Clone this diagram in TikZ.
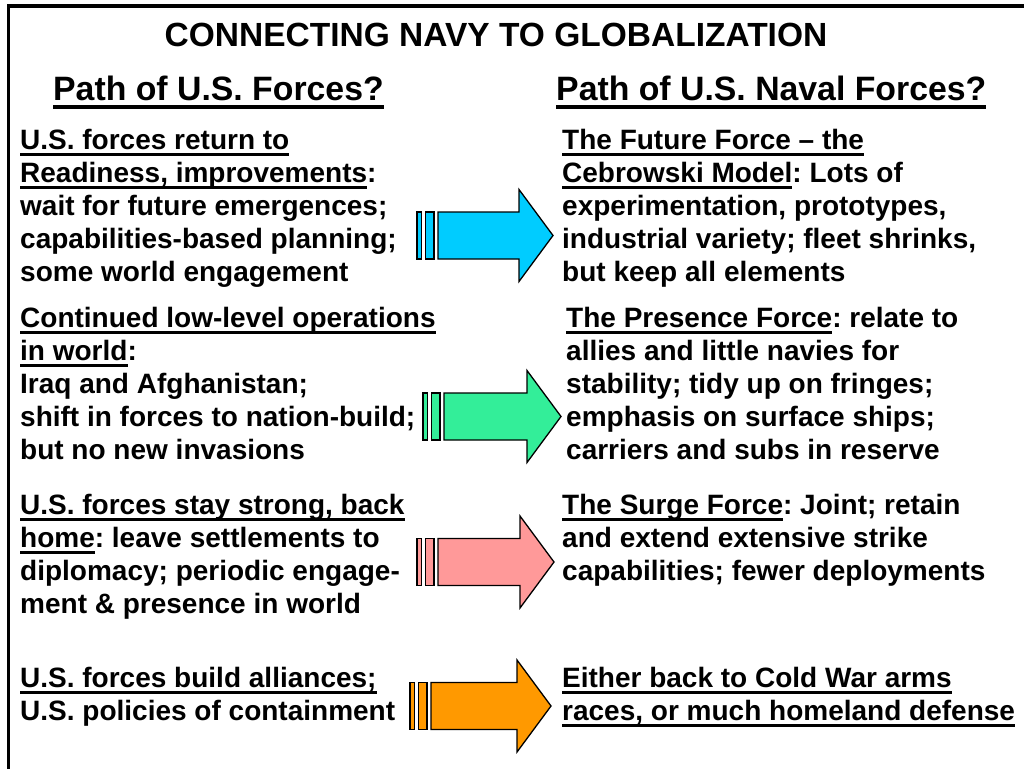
\documentclass[tikz,border=0pt]{standalone}
\usepackage{fontspec}
\setmainfont{Liberation Sans}
\usepackage{tikz}
\usetikzlibrary{positioning}
\frenchspacing
\definecolor{arrcyan}{RGB}{0,204,255}
\definecolor{arrgreen}{RGB}{51,238,153}
\definecolor{arrpink}{RGB}{255,153,153}
\definecolor{arrorange}{RGB}{255,153,0}
\newcommand\ulin[1]{\setbox0\hbox{#1}\rlap{\rule[-6.5pt]{\wd0}{2.3pt}}\box0}
\newcommand\ulhead[1]{\setbox0\hbox{#1}\rlap{\rule[-9pt]{\wd0}{3.6pt}}\box0}
% fat arrow: fill colour, left end of the body, middle height, body length
\newcommand\fatarrow[4]{%
  \draw[arrline,fill=#1] (#2-21,#3-23.5) rectangle (#2-16.5,#3+23.5);
  \draw[arrline,fill=#1] (#2-12.5,#3-23.5) rectangle (#2-4,#3+23.5);
  \draw[arrline,fill=#1] (#2,#3-23.5) -- (#2+#4,#3-23.5) -- (#2+#4,#3-46)
    -- (#2+#4+34,#3) -- (#2+#4,#3+46) -- (#2+#4,#3+23.5) -- (#2,#3+23.5) -- cycle;}
\tikzset{
  frame/.style ={line width=3.5pt},
  title/.style ={font=\fontsize{33.5}{40}\selectfont\bfseries,inner sep=0pt},
  head/.style  ={font=\fontsize{33.8}{40}\selectfont\bfseries,inner sep=0pt,anchor=base west},
  body/.style  ={font=\fontsize{28}{33}\selectfont\bfseries,inner sep=0pt,align=left,anchor=base west},
  arrline/.style={line width=1.3pt,line join=miter},
}
\begin{document}
\begin{tikzpicture}[x=1pt,y=-1pt]
  \useasboundingbox (0,0) rectangle (1024,769);
  \draw[frame] (7,6) -- (1024,6);
  \draw[frame] (8.5,4.5) -- (8.5,769);

  \node[title,anchor=base] (title) at (496,46) {CONNECTING NAVY TO GLOBALIZATION};
  \node[head] (hleft) at (53,100) {\ulhead{Path of U.S. Forces?}};
  \node[head] (hright) at (556,100) {\ulhead{Path of U.S. Naval Forces?}};

  \node[body] (l1) at (20,281) {\ulin{U.S. forces return to}\\
    \ulin{Readiness, improvements}:\\
    wait for future emergences;\\
    capabilities-based planning;\\
    some world engagement};
  \node[body] (l2) at (20,459) {\ulin{Continued low-level operations}\\
    \ulin{in world}:\\
    Iraq and Afghanistan;\\
    shift in forces to nation-build;\\
    but no new invasions};
  \node[body] (l3) at (20,613) {\ulin{U.S. forces stay strong, back}\\
    \ulin{home}: leave settlements to\\
    diplomacy; periodic engage-\\
    ment \& presence in world};
  \node[body] (l4) at (20,720) {\ulin{U.S. forces build alliances;}\\
    U.S. policies of containment};

  \node[body] (r1) at (562,281) {\ulin{The Future Force -- the}\\
    \ulin{Cebrowski Model}: Lots of\\
    experimentation, prototypes,\\
    industrial variety; fleet shrinks,\\
    but keep all elements};
  \node[body] (r2) at (566,459) {\ulin{The Presence Force}: relate to\\
    allies and little navies for\\
    stability; tidy up on fringes;\\
    emphasis on surface ships;\\
    carriers and subs in reserve};
  \node[body] (r3) at (562,580) {\ulin{The Surge Force}: Joint; retain\\
    and extend extensive strike\\
    capabilities; fewer deployments};
  \node[body] (r4) at (562,720) {\ulin{Either back to Cold War arms}\\
    \ulin{races, or much homeland defense}};

  \fatarrow{arrcyan}{438}{235.5}{81}
  \fatarrow{arrgreen}{444}{416.5}{83}
  \fatarrow{arrpink}{438}{562}{82}
  \fatarrow{arrorange}{431}{706}{86}
\end{tikzpicture}
\end{document}
